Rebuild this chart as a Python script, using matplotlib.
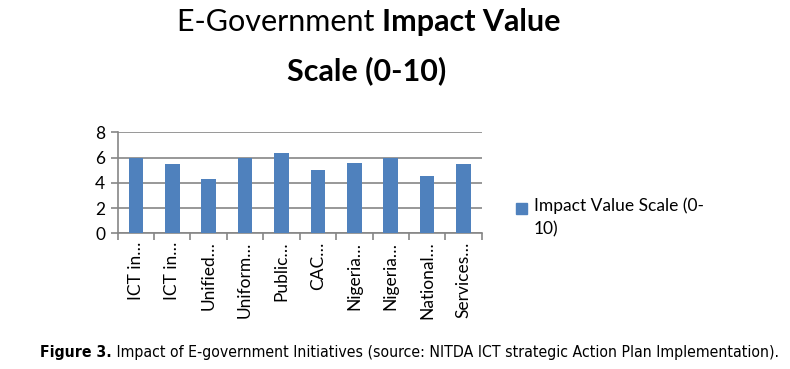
import matplotlib

matplotlib.use("Agg")
import matplotlib.pyplot as plt
import numpy as np
from matplotlib.patches import Rectangle

categories = ["ICT in\u2026", "ICT in\u2026", "Unified\u2026", "Uniform\u2026", "Public\u2026",
              "CAC\u2026", "Nigeria\u2026", "Nigeria\u2026", "National\u2026", "Services\u2026"]
values = [6.0, 5.5, 4.3, 6.0, 6.4, 5.0, 5.6, 6.0, 4.5, 5.5]
yticks = [0, 2, 4, 6, 8]
series_label = "Impact Value Scale (0-\n10)"

BAR_COLOR = "#4F81BD"
GRID_COLOR = "#868686"
FONT = ["Lato", "DejaVu Sans"]
CAP_FONT = ["DejaVu Sans"]

W, H = 790, 369
fig = plt.figure(figsize=(W / 100, H / 100), dpi=100)
ax = fig.add_axes([117.7 / W, 1 - 233.3 / H, 364 / W, 101 / H])

x = np.arange(len(values))
ax.bar(x, values, width=0.4, color=BAR_COLOR, zorder=3)

ax.set_xlim(-0.5, len(values) - 0.5)
ax.set_ylim(0, 8)
ax.set_yticks(yticks)
ax.yaxis.grid(True, color=GRID_COLOR, linewidth=1.2, zorder=0)

ax.set_xticks(x)
ax.set_xticklabels(categories, rotation=90, fontsize=12.5, family=FONT)
ax.set_xticks(np.arange(len(values) + 1) - 0.5, minor=True)
ax.tick_params(axis="x", which="major", length=0, pad=6)
ax.tick_params(axis="x", which="minor", length=5, color=GRID_COLOR, width=1.2)
ax.tick_params(axis="y", length=5, color=GRID_COLOR, width=1.2, labelsize=12.5, pad=4)
for lbl in ax.get_yticklabels():
    lbl.set_family(FONT)

for side in ["top", "right"]:
    ax.spines[side].set_visible(False)
for side in ["left", "bottom"]:
    ax.spines[side].set_color(GRID_COLOR)
    ax.spines[side].set_linewidth(1.2)

# title: first word lighter, rest bold
t1 = fig.text(177 / W, 1 - 22 / H, "E-Government ", ha="left", va="center",
              fontsize=22, family=FONT)
ax.annotate("Impact Value", xy=(1, 0.5), xycoords=t1, ha="left", va="center",
            fontsize=22, family=FONT, fontweight="bold", annotation_clip=False)
fig.text(367 / W, 1 - 71 / H, "Scale (0-10)", ha="center", va="center",
         fontsize=22, family=FONT, fontweight="bold")

# legend
fig.patches.append(Rectangle((516 / W, 1 - 214 / H), 11 / W, 11 / H, color=BAR_COLOR,
                             transform=fig.transFigure, figure=fig))
fig.text(534 / W, 1 - 197 / H, series_label, ha="left", va="top", fontsize=12.5,
         family=FONT, linespacing=1.6)

# caption
c1 = fig.text(40 / W, 1 - 352 / H, "Figure 3.", ha="left", va="center", fontsize=11.3,
              family=CAP_FONT, fontstretch="condensed", fontweight="bold")
ax.annotate(" Impact of E-government Initiatives (source: NITDA ICT strategic Action Plan Implementation).",
            xy=(1, 0.5), xycoords=c1, ha="left", va="center", fontsize=11.3,
            family=CAP_FONT, fontstretch="condensed", annotation_clip=False)

fig.savefig("out.png", dpi=100)
